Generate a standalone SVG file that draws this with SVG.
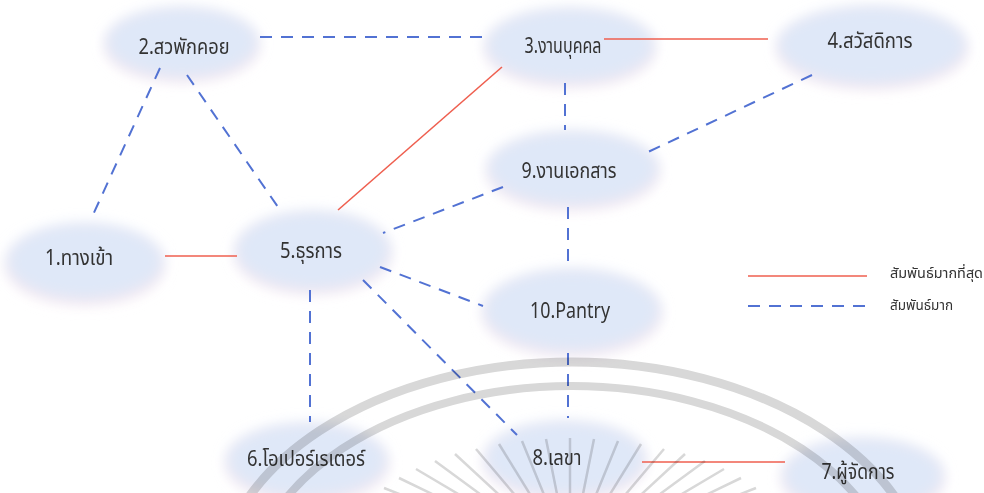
<svg xmlns="http://www.w3.org/2000/svg" width="984" height="493" viewBox="0 0 984 493">
<style>
.bg{fill:#ffffff}
.blob{fill:#dfe8f8;filter:url(#soft)}
.shade{fill:#f5e8f0;filter:url(#soft)}
.lbl{font-family:"Noto Sans Thai","Noto Sans","DejaVu Sans",sans-serif;font-size:22px;fill:#333333;text-anchor:middle;dominant-baseline:central}
.leg{font-family:"Noto Sans Thai","Noto Sans","DejaVu Sans",sans-serif;font-size:14px;fill:#333333;dominant-baseline:central}
.strong{stroke:#ef5f4f;stroke-width:1.6;fill:none}
.weak{stroke:#5272d3;stroke-width:2;stroke-dasharray:12 9;fill:none}
.wm{stroke:#d8d8d8;fill:none;mix-blend-mode:multiply}
</style>
<defs>
<filter id="soft" x="-30%" y="-40%" width="160%" height="180%"><feGaussianBlur stdDeviation="7"/></filter>
</defs>
<rect class="bg" x="0" y="0" width="984" height="493"/>

<g id="nodes">
<g id="n1"><ellipse class="shade" cx="85" cy="267" rx="78" ry="38"/><ellipse class="blob" cx="85" cy="261" rx="78" ry="38"/><text class="lbl" x="79" y="258" textLength="68" lengthAdjust="spacingAndGlyphs">1.ทางเข้า</text></g>
<g id="n2"><ellipse class="shade" cx="182" cy="47" rx="76" ry="35"/><ellipse class="blob" cx="182" cy="42" rx="76" ry="35"/><text class="lbl" x="184" y="47" textLength="91" lengthAdjust="spacingAndGlyphs">2.สวพักคอย</text></g>
<g id="n3"><ellipse class="shade" cx="570" cy="50" rx="84" ry="37"/><ellipse class="blob" cx="570" cy="45" rx="84" ry="37"/><text class="lbl" x="563" y="46" textLength="77" lengthAdjust="spacingAndGlyphs">3.งานบุคคล</text></g>
<g id="n4"><ellipse class="shade" cx="872" cy="50" rx="94" ry="39"/><ellipse class="blob" cx="872" cy="45" rx="94" ry="39"/><text class="lbl" x="870" y="41" textLength="85" lengthAdjust="spacingAndGlyphs">4.สวัสดิการ</text></g>
<g id="n5"><ellipse class="shade" cx="313" cy="255" rx="77" ry="39"/><ellipse class="blob" cx="313" cy="250" rx="77" ry="39"/><text class="lbl" x="311" y="251" textLength="62" lengthAdjust="spacingAndGlyphs">5.ธุรการ</text></g>
<g id="n9"><ellipse class="shade" cx="573" cy="173" rx="85" ry="37"/><ellipse class="blob" cx="573" cy="168" rx="85" ry="37"/><text class="lbl" x="569" y="171" textLength="95" lengthAdjust="spacingAndGlyphs">9.งานเอกสาร</text></g>
<g id="n10"><ellipse class="shade" cx="572" cy="315" rx="88" ry="41"/><ellipse class="blob" cx="572" cy="310" rx="88" ry="41"/><text class="lbl" x="570" y="311" textLength="80" lengthAdjust="spacingAndGlyphs">10.Pantry</text></g>
<g id="n6"><ellipse class="shade" cx="307" cy="465" rx="80" ry="37"/><ellipse class="blob" cx="307" cy="460" rx="80" ry="37"/><text class="lbl" x="306" y="459" textLength="118" lengthAdjust="spacingAndGlyphs">6.โอเปอร์เรเตอร์</text></g>
<g id="n8"><ellipse class="shade" cx="565" cy="463" rx="80" ry="37"/><ellipse class="blob" cx="565" cy="458" rx="80" ry="37"/><text class="lbl" x="557" y="458" textLength="49" lengthAdjust="spacingAndGlyphs">8.เลขา</text></g>
<g id="n7"><ellipse class="shade" cx="863" cy="480" rx="80" ry="37"/><ellipse class="blob" cx="863" cy="475" rx="80" ry="37"/><text class="lbl" x="858" y="472" textLength="73" lengthAdjust="spacingAndGlyphs">7.ผู้จัดการ</text></g>
</g>

<g id="connectors">
<line class="weak" x1="260" y1="37" x2="482" y2="37"/>
<line class="strong" x1="604" y1="39" x2="768" y2="39"/>
<line class="weak" x1="160" y1="68" x2="92" y2="217"/>
<line class="weak" x1="187" y1="75" x2="280" y2="210"/>
<line class="strong" x1="502" y1="67" x2="338" y2="210"/>
<line class="weak" x1="565" y1="83" x2="565" y2="130"/>
<line class="weak" x1="812" y1="75" x2="648" y2="152"/>
<line class="weak" x1="503" y1="187" x2="383" y2="233"/>
<line class="weak" x1="568" y1="207" x2="568" y2="267"/>
<line class="strong" x1="165" y1="256" x2="237" y2="256"/>
<line class="weak" x1="380" y1="267" x2="483" y2="306"/>
<line class="weak" x1="363" y1="280" x2="517" y2="435"/>
<line class="weak" x1="310" y1="290" x2="310" y2="422"/>
<line class="weak" x1="568" y1="353" x2="568" y2="418"/>
<line class="strong" x1="642" y1="462" x2="785" y2="462"/>
</g>

<g id="legend">
<line class="strong" x1="748" y1="276" x2="867" y2="276"/>
<line class="weak" x1="748" y1="306" x2="867" y2="306"/>
<text class="leg" x="890" y="273" textLength="93" lengthAdjust="spacingAndGlyphs">สัมพันธ์มากที่สุด</text>
<text class="leg" x="890" y="305" textLength="63" lengthAdjust="spacingAndGlyphs">สัมพันธ์มาก</text>
</g>

<g id="watermark">
<ellipse class="wm" cx="572" cy="597" rx="357" ry="235" stroke-width="9"/>
<ellipse class="wm" cx="572" cy="600" rx="325" ry="214" stroke-width="8"/>
<g stroke-width="2.5">
<line class="wm" x1="570" y1="438" x2="570" y2="523"/>
<line class="wm" x1="546" y1="439" x2="563" y2="524"/>
<line class="wm" x1="522" y1="441" x2="556" y2="524"/>
<line class="wm" x1="499" y1="444" x2="549" y2="525"/>
<line class="wm" x1="476" y1="449" x2="542" y2="527"/>
<line class="wm" x1="455" y1="454" x2="535" y2="528"/>
<line class="wm" x1="435" y1="461" x2="529" y2="530"/>
<line class="wm" x1="416" y1="469" x2="524" y2="533"/>
<line class="wm" x1="399" y1="478" x2="519" y2="536"/>
<line class="wm" x1="384" y1="488" x2="514" y2="539"/>
<line class="wm" x1="594" y1="439" x2="577" y2="524"/>
<line class="wm" x1="618" y1="441" x2="584" y2="524"/>
<line class="wm" x1="641" y1="444" x2="591" y2="525"/>
<line class="wm" x1="664" y1="449" x2="598" y2="527"/>
<line class="wm" x1="685" y1="454" x2="605" y2="528"/>
<line class="wm" x1="705" y1="461" x2="611" y2="530"/>
<line class="wm" x1="724" y1="469" x2="616" y2="533"/>
<line class="wm" x1="741" y1="478" x2="621" y2="536"/>
<line class="wm" x1="756" y1="488" x2="626" y2="539"/>
</g>
</g>
</svg>
